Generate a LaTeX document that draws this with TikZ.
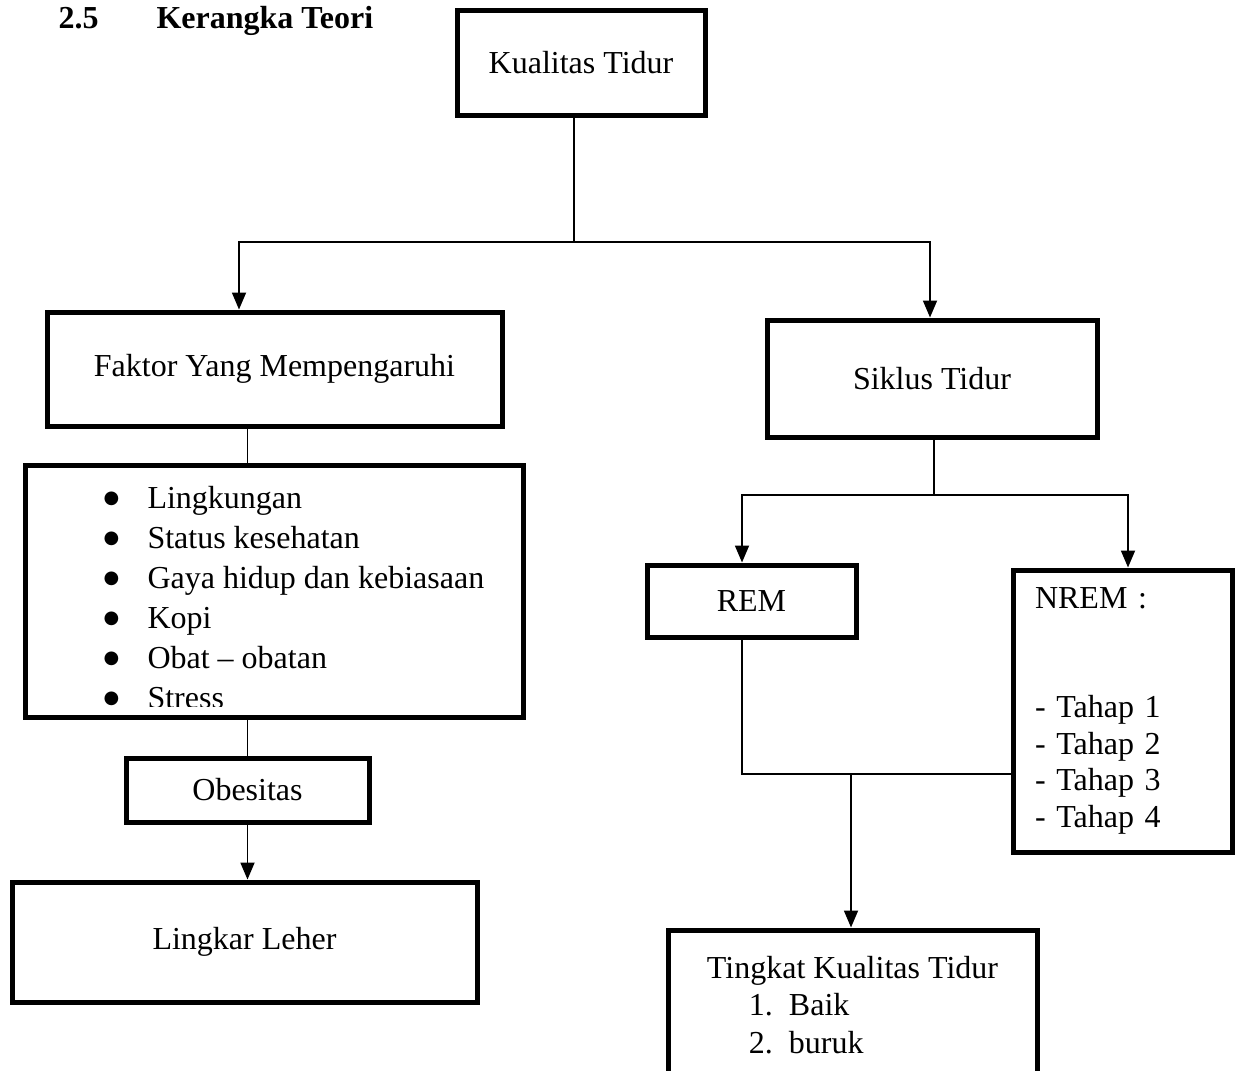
\documentclass[tikz,border=0pt]{standalone}
\usepackage{fontspec}
\setmainfont{Liberation Serif}
\newfontfamily\simbol{DejaVu Sans}
\usetikzlibrary{arrows.meta}
\newcommand{\butir}[1]{\makebox[44pt][l]{\raisebox{5.5pt}{\fontsize{18}{40}\simbol ●}}#1}
\begin{document}
\begin{tikzpicture}[x=1pt,y=-1pt,
    box/.style={draw, line width=5pt, inner sep=0pt, align=center, font=\fontsize{32}{40}\selectfont},
    conn/.style={line width=1.8pt},
    arr/.style={conn, -{Triangle[length=17pt,width=14pt]}}]
    \useasboundingbox (0,0) rectangle (1240,1071);

    % Title
    \node[anchor=base west, font=\fontsize{32}{40}\selectfont\bfseries] (nomor) at (55,28) {2.5};
    \node[anchor=base west, font=\fontsize{32}{40}\selectfont\bfseries] (judul) at (153,28) {Kerangka Teori};

    % Boxes
    \node[box, minimum width=248, minimum height=105] (kualitas) at (581,62.5) {Kualitas Tidur};
    \node[box, minimum width=455, minimum height=114] (faktor) at (274.5,369) {Faktor Yang Mempengaruhi};
    \node[box, minimum width=330, minimum height=117] (siklus) at (932,378.5) {Siklus Tidur};
    \node[box, minimum width=498, minimum height=252] (daftar) at (274,591) {};
    \node[box, minimum width=243, minimum height=64] (obesitas) at (247.5,790) {Obesitas};
    \node[box, minimum width=465, minimum height=120] (leher) at (244.5,942) {Lingkar Leher};
    \node[box, minimum width=209, minimum height=72] (rem) at (751.5,601) {REM};
    \node[box, minimum width=219, minimum height=282, text width=175, align=left,
        font=\fontsize{32}{36.5}\selectfont] (nrem) at (1122.5,711)
        {NREM :\\[72.5pt]- Tahap 1\\- Tahap 2\\- Tahap 3\\- Tahap 4};
    \node[box, minimum width=369, minimum height=150, align=left,
        font=\fontsize{32}{37.5}\selectfont] (tingkat) at (852.5,1005)
        {Tingkat Kualitas Tidur\\\hspace*{42pt}\makebox[40pt][l]{1.}Baik\\\hspace*{42pt}\makebox[40pt][l]{2.}buruk};

    % List of factors, cut off by the box
    \begin{scope}
        \clip (daftar.north west) rectangle ([yshift=13pt]daftar.south east);
        \node[anchor=west, align=left, font=\fontsize{32}{40}\selectfont] (butir) at (100,598)
            {\butir{Lingkungan}\\\butir{Status kesehatan}\\\butir{Gaya hidup dan kebiasaan}\\
             \butir{Kopi}\\\butir{Obat -- obatan}\\\butir{Stress}};
    \end{scope}

    % Left branch
    \coordinate (cabang) at (574,242);
    \draw[conn] (kualitas.south -| cabang) -- (cabang);
    \draw[arr] (cabang) -| ([xshift=-35.5pt]faktor.north);
    \draw[arr] (cabang) -| ([xshift=-2pt]siklus.north);
    \draw[conn] (faktor.south -| obesitas) -- (daftar.north -| obesitas);
    \draw[conn] (daftar.south -| obesitas) -- (obesitas.north);
    \draw[arr] (obesitas.south) -- (obesitas.south |- leher.north);

    % Right branch
    \coordinate (cabang2) at (934,495);
    \draw[conn] (siklus.south -| cabang2) -- (cabang2);
    \draw[arr] (cabang2) -| ([xshift=-9.5pt]rem.north);
    \draw[arr] (cabang2) -| ([xshift=5.5pt]nrem.north);
    \coordinate (gabung) at (742,774);
    \draw[conn] ([xshift=-9.5pt]rem.south) -- (gabung) -- (gabung -| nrem.west);
    \coordinate (turun) at (851,774);
    \draw[arr] (turun) -- (turun |- tingkat.north);
\end{tikzpicture}
\end{document}
